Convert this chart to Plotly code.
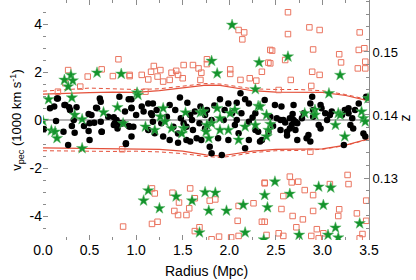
import plotly.graph_objects as go

# ---------------- data ----------------
black_x = [0.15,0.075,0.12,0.23,0.28,0.29,0.36,0.57,0.14,0.49,0.33,0.44,0.50,0.55,0.01,0.31,0.34,0.50,0.27,
           0.63,0.89,0.16,0.24,0.49,0.58,0.76,0.77,0.83,0.92,0.95,0.95,1.00,0.52,0.61,0.22,
           0.62,0.82,0.92,0.95,1.06,1.08,1.13,1.16,0.88,0.62,0.63,0.83,0.93,0.97,0.95,0.89,1.13,0.79,0.86,0.80,0.76,0.70,
           1.18,1.36,1.47,1.55,1.42,1.58,1.69,1.74,1.17,1.18,1.27,1.29,1.36,1.51,1.54,1.60,1.61,1.65,1.70,1.74,1.45,1.54,1.58,
           1.22,1.33,1.40,1.48,1.63,1.68,1.20,1.45,
           2.12,1.90,2.17,2.21,1.99,2.08,1.76,1.95,2.03,2.13,2.28,1.81,1.94,2.08,2.21,2.28,2.31,1.88,1.99,2.21,2.33,1.79,2.17,1.92,2.06,
           1.81,2.10,1.84,2.25,
           2.38,2.49,2.56,2.69,2.89,2.87,2.44,2.51,2.55,2.58,2.65,2.69,2.71,2.67,2.73,2.78,2.80,2.90,2.90,2.55,2.62,2.65,2.71,2.73,2.83,2.87,2.85,2.42,2.35,
           2.60,2.68,2.47,2.62,
           2.98,2.99,3.03,3.05,2.96,2.98,3.08,3.10,3.21,3.24,3.28,3.28,3.32,3.33,3.35,3.39,3.30,3.44,3.46,3.23,3.47]
black_v = [0.90,0.49,0.56,0.63,0.53,0.42,0.53,0.51,-0.04,0.25,0.00,-0.25,-0.14,-0.11,-0.38,-0.25,-0.53,-0.83,-1.04,
           -0.49,-1.00,0.90,0.63,-0.46,0.49,0.11,-0.14,-0.17,-0.25,0.86,0.49,0.21,0.21,0.90,-0.49,
           0.76,0.97,0.86,0.51,0.56,0.35,0.69,0.28,0.35,-0.07,-0.49,-0.14,-0.28,-0.28,-0.69,-0.97,-0.42,0.00,-0.14,-0.35,-0.21,0.14,
           0.69,0.63,0.94,0.72,0.42,0.21,0.56,0.21,0.21,-0.07,-0.14,-0.69,-0.83,-0.14,-0.28,0.00,-0.42,-0.76,-0.83,-0.35,-0.56,-0.83,-0.90,
           0.42,0.14,-0.28,0.07,0.35,-0.14,-0.55,-0.95,
           1.11,0.86,0.86,0.69,0.69,0.72,0.42,0.42,0.28,0.28,0.28,0.00,0.00,0.00,-0.07,-0.42,-0.49,-0.76,-0.83,-0.83,-0.90,-1.11,-1.18,-1.46,-0.21,
           -1.39,-0.55,0.60,0.10,
           0.83,0.63,0.56,0.63,0.97,0.69,0.14,0.07,0.00,0.00,0.07,0.00,-0.07,-0.21,-0.14,0.07,0.28,0.42,0.14,-0.42,-0.49,-0.35,-0.42,-0.83,-0.76,-0.90,-0.63,-0.49,-0.83,
           -0.10,0.25,-0.25,-0.65,
           0.63,0.49,0.28,0.00,-0.21,-0.35,0.21,0.35,0.21,0.42,0.49,0.28,0.07,-0.35,0.42,0.69,-0.21,-0.56,-0.69,-1.04,0.97]

star_x = [0.30,0.23,0.32,0.27,0.06,0.31,0.34,0.42,0.00,0.09,0.13,0.15,0.42,
          0.58,0.84,0.65,0.80,0.86,1.01,1.02,1.10,
          1.29,1.26,1.31,1.20,1.38,1.51,1.53,1.69,1.72,1.75,1.49,
          2.28,2.31,1.87,2.06,2.01,1.90,1.81,1.76,1.90,1.99,2.17,2.28,2.10,1.78,
          2.03,1.81,1.87,2.32,2.63,
          2.33,2.40,2.44,2.42,2.40,2.81,2.92,2.92,
          3.19,3.07,3.17,3.19,3.14,3.42,3.44,3.46,3.24,3.49,
          1.13,1.08,1.25,1.43,1.60,1.74,1.85,1.78,1.97,2.15,1.68,2.17,2.38,2.41,2.37,
          2.49,2.65,2.96,3.09,3.01,3.40,3.14,2.75,3.06,3.17]
star_v = [1.87,1.67,1.64,1.39,0.86,0.93,0.21,0.03,-0.04,-0.44,-0.49,-0.76,-1.18,
          1.97,1.92,0.32,0.53,-0.14,1.14,1.04,-0.28,
          0.49,0.14,-0.07,-0.42,-0.35,-0.35,0.31,0.31,0.35,-0.49,-0.56,
          1.28,0.58,0.49,0.42,0.28,0.07,-0.14,-0.21,-0.42,-0.42,-0.28,-0.21,-0.83,-0.76,
          3.96,2.46,1.94,2.40,2.64,
          0.56,0.21,-0.17,-0.42,-0.69,0.28,0.42,0.21,
          1.87,1.11,0.28,0.21,-0.21,0.35,0.07,-0.07,-0.69,0.90,
          -2.94,-3.36,-3.68,-3.19,-3.36,-3.01,-3.03,-3.78,-3.78,-3.54,-4.69,-4.69,-3.13,-3.64,-4.98,
          -2.57,-3.08,-2.78,-2.82,-3.54,-4.31,-4.49,-4.79,-4.79,-4.90]

sq_x = [0.81,0.63,0.27,0.48,0.75,0.93,0.24,0.40,0.16,1.06,
        2.10,2.16,2.14,1.76,1.76,1.61,1.51,1.67,1.43,1.19,1.26,1.16,1.38,1.70,2.01,2.01,1.23,1.13,1.50,1.36,1.29,1.69,2.12,2.22,2.29,2.44,2.42,1.10,0.93,1.45,
        2.63,2.86,2.97,2.63,3.40,2.46,2.90,2.60,2.44,3.18,3.20,3.39,3.45,3.46,3.38,3.46,2.35,2.89,2.97,2.66,2.88,2.53,
        0.86,0.85,2.87,
        1.17,1.20,1.39,1.46,1.58,1.63,1.79,1.85,1.57,1.41,1.45,1.54,1.23,1.17,1.63,1.68,1.89,2.02,2.10,2.09,2.10,2.26,2.38,2.35,1.81,
        2.65,2.38,2.67,2.74,2.81,2.90,3.08,3.27,3.28,2.58,2.56,2.90,3.18,3.17,3.47,3.37,3.47,2.68,2.79,2.72,2.94,3.01,2.88,2.96,2.53,2.58,2.38,3.43,3.40,2.40]
sq_v = [2.53,2.11,2.08,1.81,1.83,1.83,1.53,1.39,1.18,1.88,
        3.75,3.65,3.36,2.53,2.33,2.29,2.29,2.15,2.05,2.25,2.08,2.01,1.97,1.97,2.11,1.92,1.81,1.69,1.74,1.67,1.60,1.67,1.67,1.74,1.64,2.92,2.39,1.18,1.88,1.88,
        4.49,3.86,3.75,3.58,3.65,2.89,2.94,2.50,2.36,2.74,2.40,2.92,2.99,2.43,2.15,2.15,2.01,2.01,1.88,1.67,1.42,1.25,
        -4.44,-1.22,-1.32,
        -2.85,-3.06,-3.03,-3.44,-2.85,-3.26,-3.36,-3.31,-3.68,-3.79,-3.96,-3.96,-4.24,-4.33,-4.63,-4.47,-4.86,-4.89,-4.83,-4.20,-3.58,-3.47,-2.61,-4.24,-4.97,
        -2.36,-2.64,-2.60,-2.57,-2.92,-3.13,-2.67,-2.29,-2.67,-3.17,-3.71,-3.79,-3.72,-4.00,-3.36,-3.89,-4.20,-4.00,-4.14,-4.47,-4.55,-4.72,-4.83,-4.93,-4.72,-4.83,-4.24,-4.75,-4.93,-4.79]

line_x = [0.0,0.25,0.5,0.75,1.0,1.25,1.5,1.75,1.9,2.0,2.25,2.5,2.75,3.0,3.25,3.5]
up_solid = [1.08,1.12,1.14,1.16,1.15,1.22,1.35,1.45,1.44,1.38,1.22,1.16,1.16,1.15,1.02,0.80]
up_dash  = [1.20,1.28,1.33,1.30,1.27,1.30,1.42,1.52,1.50,1.45,1.30,1.27,1.27,1.22,1.06,0.84]
lo_solid = [-1.16,-1.17,-1.18,-1.19,-1.20,-1.22,-1.30,-1.45,-1.50,-1.45,-1.30,-1.22,-1.22,-1.20,-1.05,-0.78]
lo_dash  = [-1.28,-1.30,-1.32,-1.31,-1.30,-1.33,-1.40,-1.52,-1.56,-1.52,-1.36,-1.28,-1.27,-1.22,-1.06,-0.80]

x_ticks = [0.0,0.5,1.0,1.5,2.0,2.5,3.0,3.5]
v_ticks = [-4,-2,0,2,4]
z_ticks = [0.13,0.14,0.15]

RED = "#e4503a"
SQ = "#ea7560"
GREEN = "#14932c"
AX = "#8c8c8c"
FONT = "Liberation Sans"

fig = go.Figure()
fig.add_trace(go.Scatter(x=[0, 3.5], y=[0, 0], mode="lines",
                         line=dict(color="#b4b4b4", width=2), hoverinfo="skip"))
fig.add_trace(go.Scatter(x=line_x, y=up_dash, mode="lines", line=dict(color=RED, width=1, dash="4px,3px")))
fig.add_trace(go.Scatter(x=line_x, y=lo_dash, mode="lines", line=dict(color=RED, width=1, dash="4px,3px")))
fig.add_trace(go.Scatter(x=line_x, y=up_solid, mode="lines", line=dict(color=RED, width=1.2)))
fig.add_trace(go.Scatter(x=line_x, y=lo_solid, mode="lines", line=dict(color=RED, width=1.2)))
fig.add_trace(go.Scatter(x=sq_x, y=sq_v, mode="markers",
                         marker=dict(symbol="square-open", size=5.5, color=SQ, line=dict(width=1, color=SQ))))
fig.add_trace(go.Scatter(x=black_x, y=black_v, mode="markers",
                         marker=dict(symbol="circle", size=6.5, color="black", line=dict(width=0))))
fig.add_trace(go.Scatter(x=star_x, y=star_v, mode="markers",
                         marker=dict(symbol="star", size=8.5, color=GREEN, line=dict(width=0.5, color="#5cb86a"))))
# dummy traces to activate the mirror axes
fig.add_trace(go.Scatter(x=[0], y=[0], xaxis="x2", yaxis="y", mode="markers", marker=dict(opacity=0), hoverinfo="skip"))
fig.add_trace(go.Scatter(x=[0], y=[0.14], xaxis="x", yaxis="y2", mode="markers", marker=dict(opacity=0), hoverinfo="skip"))

axfont = dict(family=FONT, size=14, color="black")
fig.update_layout(
    width=416, height=280,
    margin=dict(l=43, r=47, t=0, b=40),
    paper_bgcolor="white", plot_bgcolor="white",
    showlegend=False,
    font=dict(family=FONT, size=14, color="black"),
    xaxis=dict(range=[0, 3.5], tickvals=x_ticks, ticktext=[f"{v:.1f}" for v in x_ticks],
               ticks="inside", ticklen=5, tickcolor=AX, tickwidth=1,
               minor=dict(dtick=0.25, ticks="inside", ticklen=3, tickcolor=AX),
               showline=False, showgrid=False, zeroline=False, tickfont=axfont),
    xaxis2=dict(range=[0, 3.5], overlaying="x", side="top", tickvals=x_ticks, showticklabels=False,
                ticks="inside", ticklen=5, tickcolor=AX,
                minor=dict(dtick=0.25, ticks="inside", ticklen=3, tickcolor=AX),
                showline=True, linecolor=AX, linewidth=1, showgrid=False, zeroline=False),
    yaxis=dict(range=[-5, 5], tickvals=v_ticks, ticktext=[str(v) for v in v_ticks],
               ticks="inside", ticklen=5, tickcolor=AX,
               minor=dict(dtick=0.5, ticks="inside", ticklen=3, tickcolor=AX),
               showline=False, showgrid=False, zeroline=False, tickfont=axfont,
               title=dict(text="v<sub>pec</sub> (1000 km s<sup>-1</sup>)", font=dict(family=FONT, size=13), standoff=4)),
    yaxis2=dict(range=[0.12016, 0.15825], overlaying="y", side="right", tickvals=z_ticks,
                ticktext=[f"{v:.2f}" for v in z_ticks],
                ticks="inside", ticklen=5, tickcolor=AX,
                minor=dict(dtick=0.002, tick0=0.12, ticks="inside", ticklen=3, tickcolor=AX),
                showline=True, linecolor=AX, linewidth=1, showgrid=False, zeroline=False,
                tickfont=dict(family=FONT, size=13, color="black")),
    annotations=[
        dict(text="Radius (Mpc)", xref="paper", yref="paper", x=0.5, y=-0.128,
             xanchor="center", yanchor="middle", showarrow=False, font=axfont),
        dict(text="z", xref="paper", yref="paper", x=1.11, y=0.51, textangle=-90,
             xanchor="center", yanchor="middle", showarrow=False, font=axfont),
    ],
)

fig.write_html("out.html", config={"displayModeBar": False},
               post_script="document.body.style.margin='0';document.body.style.overflow='hidden';")
